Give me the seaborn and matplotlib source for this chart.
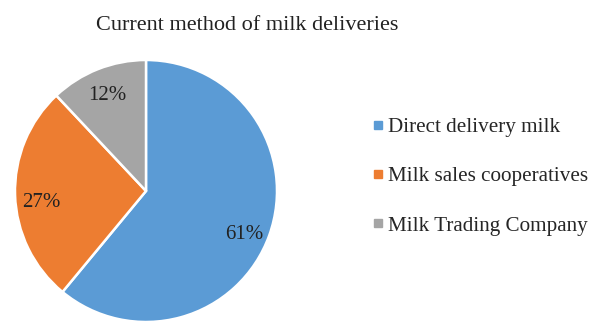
import numpy as np
import matplotlib
matplotlib.use("Agg")
import matplotlib.pyplot as plt
import seaborn as sns
from matplotlib.lines import Line2D

sns.set_theme(style="white")
plt.rcParams["font.family"] = ["Liberation Serif", "DejaVu Serif"]

methods = ["Direct delivery milk", "Milk sales cooperatives", "Milk Trading Company"]
shares = [61, 27, 12]
colors = ["#5B9BD5", "#ED7D31", "#A5A5A5"]

fig = plt.figure(figsize=(5.93, 3.22), dpi=100)
ax = fig.add_axes([0.0253, 0.0, 0.4418, 0.8137])

wedges, texts, autotexts = ax.pie(
    shares,
    colors=colors,
    startangle=90,
    counterclock=False,
    autopct="%d%%",
    pctdistance=0.8,
    wedgeprops=dict(edgecolor="white", linewidth=1.8),
    textprops=dict(fontsize=15, color="#222222"),
)

# nudge the percentage labels slightly downward inside their wedges
label_drop = [0.06, 0.06, 0.015]
for t, dy in zip(autotexts, label_drop):
    x, y = t.get_position()
    t.set_position((x, y - dy))

ax.set_xlim(-1, 1)
ax.set_ylim(-1, 1)
ax.set_aspect("equal")
ax.axis("off")

fig.text(0.417, 0.922, "Current method of milk deliveries",
         ha="center", va="center", fontsize=16, color="#222222")

handles = [Line2D([0], [0], marker="s", linestyle="none", markersize=6,
                  markerfacecolor=c, markeredgecolor=c) for c in colors]
fig.legend(handles, methods, loc="center left", bbox_to_anchor=(0.6065, 0.452),
           frameon=False, fontsize=15.2, handletextpad=0.05, labelspacing=1.4,
           handlelength=0.9, borderaxespad=0)

fig.savefig("out.png", dpi=100, facecolor="white")
